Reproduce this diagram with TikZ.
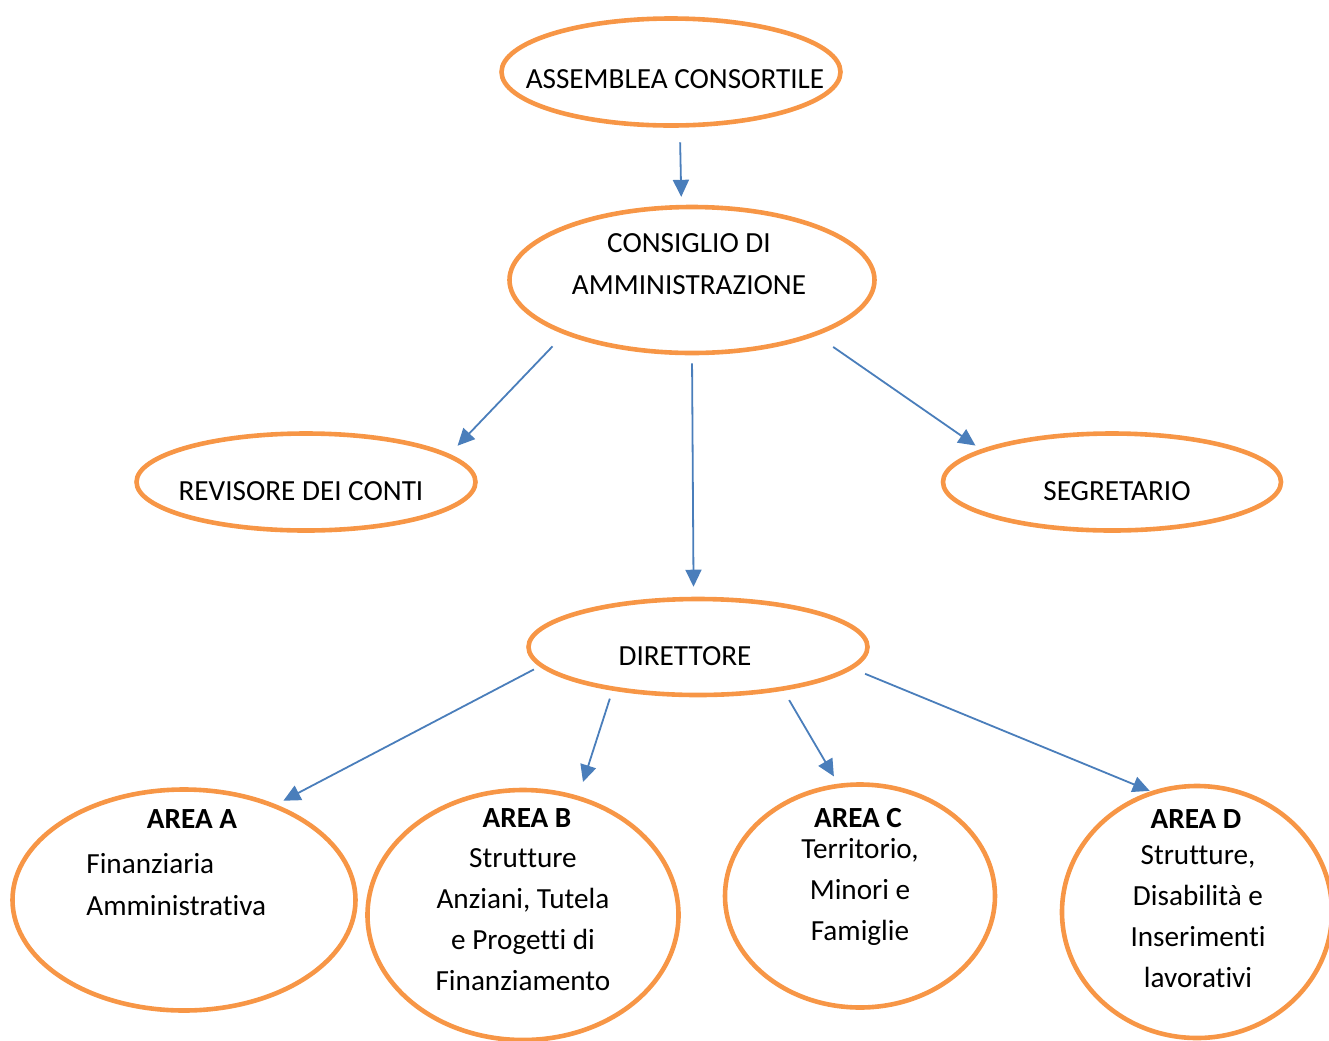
\documentclass[tikz,border=0pt]{standalone}
\usepackage{fontspec}
\setmainfont{Carlito}[Ligatures=NoCommon]
\usepackage{xcolor}
\usepackage{tikz}
\usetikzlibrary{shapes.geometric,arrows.meta}

\definecolor{orgline}{HTML}{F79646}
\definecolor{bluline}{HTML}{4A7EBB}

\begin{document}
\begin{tikzpicture}[x=0.5pt,y=-0.5pt,
    ell/.style={ellipse,draw=orgline,line width=2.3pt,inner sep=0pt},
    txt/.style={font=\fontsize{14.6}{20.5}\selectfont,inner sep=0pt,anchor=base,align=center},
    ttl/.style={txt,font=\fontsize{14.6}{20.5}\selectfont\bfseries},
    arr/.style={draw=bluline,line width=0.9pt,-{Triangle[length=8.5pt,width=8pt]}}]
    \useasboundingbox (0,0) rectangle (1329,1040);
    % ellissi
    \node [ell,minimum width=169.5pt,minimum height=53.5pt] (asm) at (671,72) {};
    \node [ell,minimum width=182.5pt,minimum height=73pt] (cda) at (692,280) {};
    \node [ell,minimum width=169.5pt,minimum height=48.5pt] (rev) at (306,482) {};
    \node [ell,minimum width=169pt,minimum height=48.5pt] (seg) at (1112,482) {};
    \node [ell,minimum width=169.5pt,minimum height=48pt] (dir) at (698,647) {};
    \node [ell,minimum width=171.5pt,minimum height=110.5pt] (areaA) at (184,900) {};
    \node [ell,minimum width=155.5pt,minimum height=125pt] (areaB) at (523,915) {};
    \node [ell,minimum width=135pt,minimum height=111.5pt] (areaC) at (860,896) {};
    \node [ell,minimum width=135pt,minimum height=126pt] (areaD) at (1197,912) {};
    % testi (base = ultima riga)
    \node [txt] (asmT) at (675,88) {ASSEMBLEA CONSORTILE};
    \node [txt,font=\fontsize{14.6}{21}\selectfont] (cdaT) at (689,294) {CONSIGLIO DI\\AMMINISTRAZIONE};
    \node [txt] (revT) at (301,500) {REVISORE DEI CONTI};
    \node [txt] (segT) at (1117,500) {SEGRETARIO};
    \node [txt] (dirT) at (685,665) {DIRETTORE};
    \node [ttl] (areaAT) at (192,828) {AREA A};
    \node [txt,anchor=base west,align=left,font=\fontsize{14.6}{21}\selectfont] (areaAB) at (86,915) {Finanziaria\\Amministrativa};
    \node [ttl] (areaBT) at (527,827) {AREA B};
    \node [txt] (areaBB) at (523,990) {Strutture\\Anziani, Tutela\\e Progetti di\\Finanziamento};
    \node [ttl] (areaCT) at (858,827) {AREA C};
    \node [txt] (areaCB) at (860,940) {Territorio,\\Minori e\\Famiglie};
    \node [ttl] (areaDT) at (1196,828) {AREA D};
    \node [txt] (areaDB) at (1198,987) {Strutture,\\Disabilità e\\Inserimenti\\lavorativi};
    % frecce
    \draw [arr,shorten <=7.3pt,shorten >=4pt] (asm.279.6) -- (cda.98.6);
    \draw [arr,shorten <=8.3pt,shorten >=5.8pt] (cda.203) -- (rev.11.7);
    \draw [arr,shorten <=4pt,shorten >=5pt] (cda.270.8) -- (dir.95.9);
    \draw [arr,shorten <=10pt,shorten >=3.3pt] (cda.336.7) -- (seg.166.6);
    \draw [arr,shorten <=3.2pt,shorten >=4pt] (dir.187.5) -- (areaA.46.7);
    \draw [arr,shorten <=4.2pt,shorten >=7.3pt] (dir.207.8) -- (areaB.65.5);
    \draw [arr,shorten <=5.5pt,shorten >=4.2pt] (dir.333.4) -- (areaC.101.2);
    \draw [arr,shorten <=6.6pt,shorten >=0.5pt] (dir.352.6) -- (areaD.111.4);
\end{tikzpicture}
\end{document}
